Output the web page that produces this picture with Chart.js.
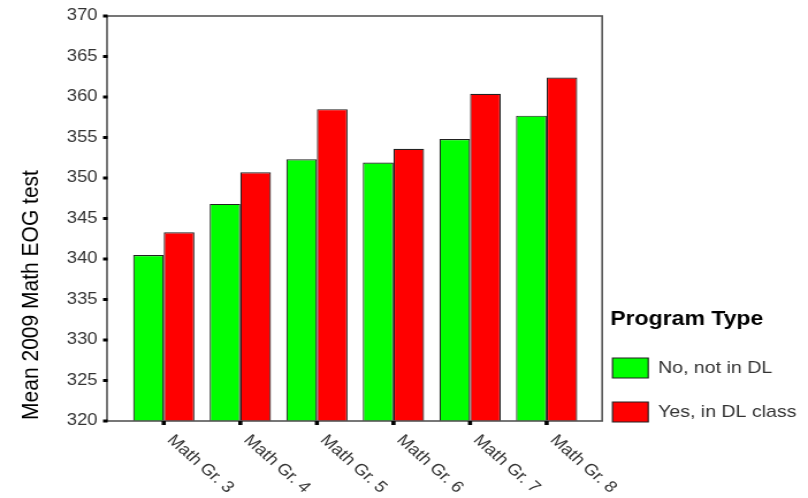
<!DOCTYPE html>
<html>
<head>
<meta charset="utf-8">
<script src="https://cdn.jsdelivr.net/npm/chart.js@4/dist/chart.umd.min.js"></script>
<style>
  body { margin: 0; background: #fff; }
  #c { display: block; width: 808px; height: 498px; }
</style>
</head>
<body>
<canvas id="c" width="702" height="498" style="width:808px;height:498px"></canvas>
<script>
// values
var grades = ['Math Gr. 3', 'Math Gr. 4', 'Math Gr. 5', 'Math Gr. 6', 'Math Gr. 7', 'Math Gr. 8'];
var notInDL = [340.5, 346.8, 352.3, 351.9, 354.8, 357.7];
var inDL = [343.3, 350.7, 358.5, 353.6, 360.4, 362.4];
var yMin = 320, yMax = 370, yStep = 5;

var FONT = 'Arial, "Liberation Sans", sans-serif';

// frame, tick marks, axis title, legend title and slanted category labels (SPSS look)
var spssDecor = {
  id: 'spssDecor',
  afterDatasetsDraw: function (chart) {
    var ctx = chart.ctx, a = chart.chartArea;
    var left = a.left - 16, right = a.right + 15;
    ctx.save();
    ctx.strokeStyle = '#555';
    ctx.lineWidth = 1.6;
    ctx.strokeRect(left, a.top, right - left, a.bottom - a.top);

    ctx.fillStyle = '#000';
    chart.scales.y.ticks.forEach(function (t) {
      var py = chart.scales.y.getPixelForValue(t.value);
      ctx.fillRect(left - 3.5, py - 1.5, 4, 3);
    });
    grades.forEach(function (g, i) {
      var px = chart.scales.x.getPixelForValue(i);
      ctx.fillRect(px - 1.8, a.bottom, 3.6, 4);
    });

    // legend heading
    ctx.fillStyle = '#000';
    ctx.font = 'bold 20px ' + FONT;
    ctx.textAlign = 'left';
    ctx.textBaseline = 'middle';
    ctx.fillText('Program Type', chart.legend.left + 22, 319);

    // y axis title
    ctx.font = '21px ' + FONT;
    ctx.textAlign = 'center';
    ctx.translate(27, 295);
    ctx.rotate(-Math.PI / 2);
    ctx.fillText('Mean 2009 Math EOG test', 0, 0);
    ctx.restore();

    // category labels
    ctx.save();
    ctx.fillStyle = '#333';
    ctx.font = '16px ' + FONT;
    ctx.textAlign = 'left';
    ctx.textBaseline = 'top';
    grades.forEach(function (g, i) {
      var px = chart.scales.x.getPixelForValue(i);
      ctx.save();
      ctx.translate(px + 11, a.bottom + 11);
      ctx.rotate(Math.PI / 4);
      ctx.fillText(g, 0, 0);
      ctx.restore();
    });
    ctx.restore();
  }
};

var chart = new Chart(document.getElementById('c'), {
  type: 'bar',
  data: {
    labels: grades,
    datasets: [{
      label: 'No, not in DL',
      data: notInDL,
      backgroundColor: '#00ff00',
      borderColor: '#222',
      borderWidth: 1.2
    }, {
      label: 'Yes, in DL class',
      data: inDL,
      backgroundColor: '#ff0000',
      borderColor: '#222',
      borderWidth: 1.2
    }]
  },
  options: {
    responsive: false,
    animation: false,
    devicePixelRatio: 1,
    layout: { padding: { top: 16, left: 58, right: 0, bottom: 52 } },
    datasets: { bar: { categoryPercentage: 0.8, barPercentage: 1 } },
    scales: {
      x: {
        grid: { display: false },
        border: { display: false },
        ticks: { display: false },
        afterFit: function (s) { s.height = 25; }
      },
      y: {
        min: yMin,
        max: yMax,
        grid: { display: false, drawTicks: false },
        border: { display: false },
        ticks: { stepSize: yStep, padding: 0, crossAlign: 'far', color: '#333', font: { family: FONT, size: 16 } },
        afterFit: function (s) { s.width = 51; }
      }
    },
    plugins: {
      tooltip: { enabled: false },
      legend: {
        position: 'right',
        align: 'end',
        maxWidth: 194,
        labels: {
          boxWidth: 31,
          boxHeight: 20,
          padding: 24,
          color: '#333',
          font: { family: FONT, size: 17 }
        }
      }
    }
  },
  plugins: [spssDecor]
});
</script>
</body>
</html>
